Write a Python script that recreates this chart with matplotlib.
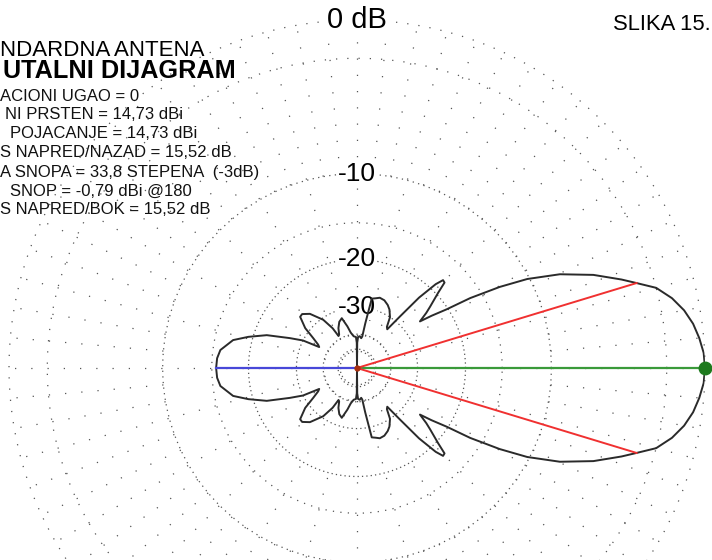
import numpy as np
import matplotlib
matplotlib.use("Agg")
import matplotlib.pyplot as plt

plt.rcParams['font.family'] = ['Liberation Sans', 'DejaVu Sans']

# azimuth pattern, half plane (0..180 deg), dB relative to max (14,73 dBi)
AZ_DEG = [0, 2.5, 5, 7.5, 10, 12.5, 15, 16.9, 18.5, 21.5, 24.8, 27.6, 29.6, 31.7,
          33.2, 35, 36.5, 38.5, 40, 42.8, 44.3, 45.6, 46.8, 48.6, 50.2, 52,
          54, 57, 61, 64, 68, 72, 75, 78, 79.5, 80.5, 82, 85, 88, 89.5, 90,
          90.5, 92, 96, 100, 103, 107, 111, 115, 118, 120,
          121.5, 125, 131, 135.5, 138, 142.4, 145.7, 149, 151,
          153, 156, 160, 164, 167.3, 172.5, 176, 180]
GAIN_DB = [0, -0.05, -0.22, -0.45, -0.8, -1.3, -2.0, -3.0, -3.8, -5.4, -7.6, -10.2, -12.9, -16.5,
           -20.2, -23.0, -25.6, -23.5, -22.2, -19.7, -17.95, -17.85, -19.0, -22.5, -28.3, -33.6,
           -33.0, -30.0, -28.3, -27.5, -26.8, -26.6, -27.0, -27.3, -35.0, -41.0, -42.0, -41.0, -41.5, -45.0, -99.0,
           -45.0, -41.5, -41.0, -39.0, -36.0, -32.6, -33.5, -35.5, -38.0, -38.5,
           -34.5, -30.5, -27.1, -25.9, -26.0, -28.7, -32.3, -35.0, -35.8,
           -30.0, -26.7, -22.1, -19.3, -17.3, -15.9, -15.6, -15.52]

RING_DB = [0, -2, -10, -15, -20, -30, -40, -50]
RING_GAP = [8, 8, 3.5, 5, 2.5, 2.5, 2.5, 2.5]
RING_LABELS = ["0 dB", "-10", "-20", "-30"]
LABEL_DB = [0, -10, -20, -30]
BEAMWIDTH = 33.8
FB_DB = 15.52

TITLE1 = "NDARDNA ANTENA"
TITLE2 = "UTALNI DIJAGRAM"
INFO = ["ACIONI UGAO = 0",
        "NI PRSTEN = 14,73 dBi",
        "POJACANJE = 14,73 dBi",
        "S NAPRED/NAZAD = 15,52 dB",
        "A SNOPA = 33,8 STEPENA  (-3dB)",
        "SNOP = -0,79 dBi @180",
        "S NAPRED/BOK = 15,52 dB"]
INFO_X = [0, 5, 10, 0, 0, 10, 0]
FIGNOTE = "SLIKA 15."


def arrl(db):
    # ARRL log scale: 0.89 radius per 2 dB
    return 0.89 ** (-np.asarray(db, dtype=float) / 2)


W, H = 712, 560
fig = plt.figure(figsize=(W / 100, H / 100), dpi=100)
cx, cy, R = 357, 368, 348
ax = fig.add_axes([(cx - R) / W, (H - cy - R) / H, 2 * R / W, 2 * R / H], projection='polar')
ax.set_theta_zero_location('E')
ax.set_ylim(0, 1)
ax.grid(False)
ax.set_xticks([])
ax.set_yticks([])
ax.spines['polar'].set_visible(False)

gcol = '#555555'
th = np.linspace(0, 2 * np.pi, 721)
for d, gap in zip(RING_DB, RING_GAP):
    ax.plot(th, np.full_like(th, arrl(d)), color=gcol, lw=0.9, ls=(0, (1, gap)), clip_on=False)

# radials
for a in range(0, 360, 5):
    t = np.radians(a)
    r0 = 0 if a % 15 == 0 else arrl(-10)
    ax.plot([t, t], [r0, 1], color=gcol, lw=0.9, ls=(0, (1, 12)), clip_on=False)

# pattern (mirror the half plane)
az = np.array(AZ_DEG)
g = np.array(GAIN_DB)
full_az = np.concatenate([az, 360 - az[::-1][1:]])
full_g = np.concatenate([g, g[::-1][1:]])
ax.plot(np.radians(full_az), arrl(full_g), color='#2a2a2a', lw=1.4, zorder=5)

# markers
ax.plot([np.pi, np.pi], [0, arrl(-FB_DB)], color='#4848d8', lw=1.6, zorder=6)
ax.plot([0, 0], [0, 1], color='#3a9a3a', lw=1.6, zorder=6)
for s in (1, -1):
    t = np.radians(s * BEAMWIDTH / 2)
    ax.plot([t, t], [0, arrl(-3)], color='#f03030', lw=1.4, zorder=6)
ax.plot([0], [1], 'o', color='#1e7a1e', ms=9, zorder=7, clip_on=False)
ax.plot([0], [0], 'o', color='#a83010', ms=3.5, zorder=7)

for lab, d in zip(RING_LABELS, LABEL_DB):
    fs = 21 if d == 0 else 19
    ax.text(np.pi / 2, arrl(d), lab, ha='center', va='center', fontsize=fs, zorder=4,
            bbox=dict(facecolor='white', edgecolor='none', pad=0.5))


def px(x, y):
    return x / W, 1 - y / H


fig.text(*px(0, 50), TITLE1, fontsize=16, va='center', ha='left')
fig.text(*px(3, 71), TITLE2, fontsize=18.2, fontweight='bold', va='center', ha='left')
for i, (s, x) in enumerate(zip(INFO, INFO_X)):
    fig.text(*px(x, 96 + 19 * i), s, fontsize=12, va='center', ha='left', color='#111111')
fig.text(*px(613, 24), FIGNOTE, fontsize=15.8, va='center', ha='left')

fig.savefig('out.png', dpi=100, facecolor='white')
